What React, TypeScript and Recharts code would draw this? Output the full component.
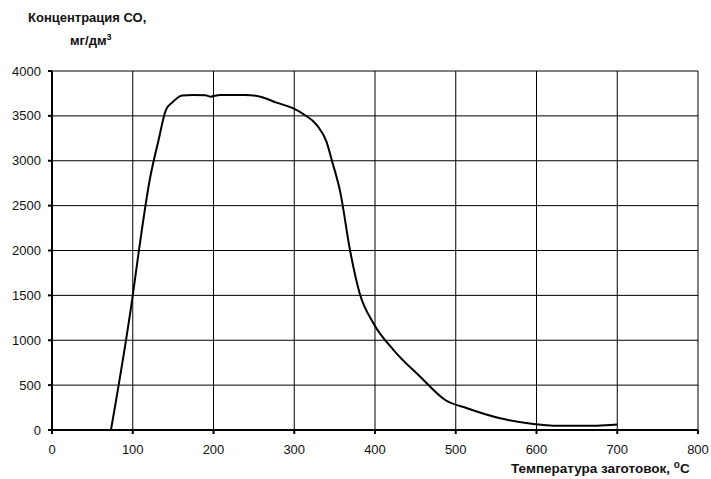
import React from "react";
import { LineChart, Line, XAxis, YAxis, CartesianGrid } from "recharts";

const temps = [73, 100, 106, 121, 132, 141, 150, 161, 175, 190, 196, 208, 239, 258, 278, 299, 313, 328, 340, 347, 357, 369, 381, 398, 423, 456, 487, 514, 555, 596, 621, 675, 700];
const conc = [0, 1500, 1894, 2786, 3231, 3565, 3658, 3728, 3733, 3730, 3714, 3733, 3733, 3714, 3647, 3584, 3510, 3398, 3210, 2990, 2650, 2006, 1523, 1189, 891, 594, 334, 242, 130, 67, 48, 48, 60];
const xTicks = [0, 100, 200, 300, 400, 500, 600, 700, 800];
const yTicks = [0, 500, 1000, 1500, 2000, 2500, 3000, 3500, 4000];

const data = temps.map((t, i) => ({ t, c: conc[i] }));

const font = "'Liberation Sans', Arial, sans-serif";

export default function App() {
  return (
    <div style={{ position: "absolute", left: 0, top: 0, width: 711, height: 479, background: "#fff", fontFamily: font }}>
      <LineChart width={711} height={479} data={data} margin={{ top: 71, right: 13, bottom: 19, left: 0 }}>
        <CartesianGrid stroke="#000" strokeWidth={1} vertical={true} horizontal={true} />
        <XAxis
          type="number"
          dataKey="t"
          domain={[0, 800]}
          ticks={xTicks}
          height={30}
          stroke="#000"
          strokeWidth={2}
          tickSize={4}
          tickMargin={11}
          tick={{ fill: "#111", fontSize: 13, fontFamily: font }}
          interval={0}
        />
        <YAxis
          type="number"
          domain={[0, 4000]}
          ticks={yTicks}
          width={52}
          stroke="#000"
          strokeWidth={2}
          tickSize={4}
          tickMargin={7}
          tick={{ fill: "#111", fontSize: 13, fontFamily: font }}
          interval={0}
        />
        <Line type="monotone" dataKey="c" stroke="#000" strokeWidth={2} dot={false} isAnimationActive={false} />
      </LineChart>
      <div style={{ position: "absolute", left: 28, top: 10, fontSize: 13, lineHeight: "15px", fontWeight: "bold", color: "#111", whiteSpace: "nowrap" }}>
        Концентрация СО,
      </div>
      <div style={{ position: "absolute", left: 70, top: 33, fontSize: 13, lineHeight: "15px", fontWeight: "bold", color: "#111", whiteSpace: "nowrap" }}>
        мг/дм<sup style={{ fontSize: 9, lineHeight: 0 }}>3</sup>
      </div>
      <div style={{ position: "absolute", left: 511, top: 461, fontSize: 13.5, lineHeight: "16px", fontWeight: "bold", color: "#111", whiteSpace: "nowrap" }}>
        Температура заготовок, <sup style={{ fontSize: 10, lineHeight: 0 }}>o</sup>C
      </div>
    </div>
  );
}
